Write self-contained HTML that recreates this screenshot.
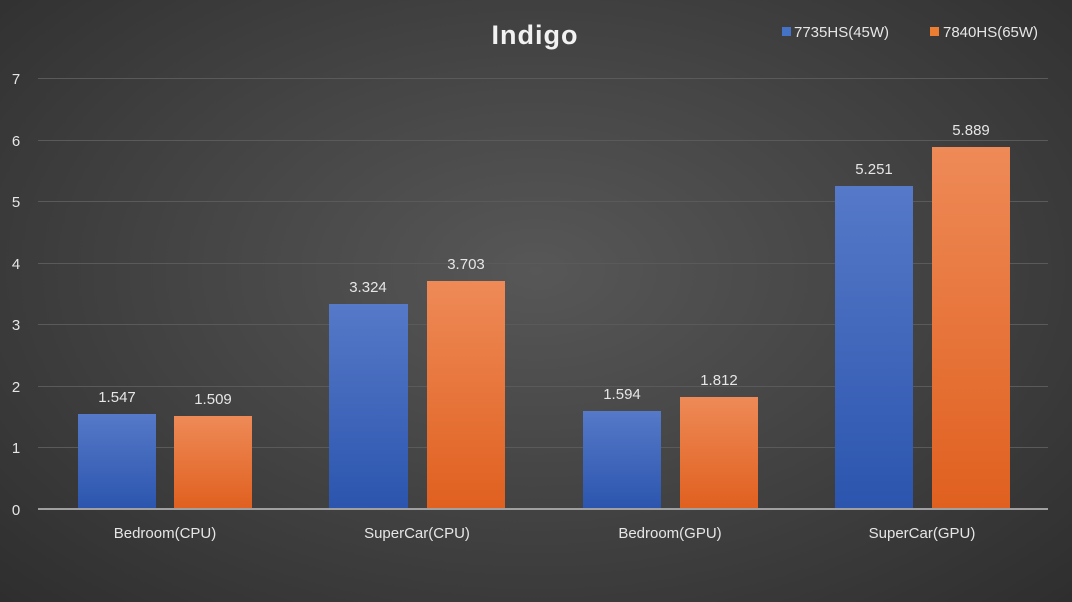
<!DOCTYPE html>
<html><head><style>
html,body{margin:0;padding:0;width:1072px;height:602px;overflow:hidden}
body{background:radial-gradient(ellipse at 50% 45%,#575757 0%,#454545 45%,#2e2e2e 100%)}
svg text{font-family:"Liberation Sans",sans-serif}
</style></head><body>
<svg width="1072" height="602" xmlns="http://www.w3.org/2000/svg">
<defs>
<linearGradient id="b" x1="0" y1="0" x2="0" y2="1"><stop offset="0" stop-color="#5679c8"/><stop offset="1" stop-color="#2b55ae"/></linearGradient>
<linearGradient id="o" x1="0" y1="0" x2="0" y2="1"><stop offset="0" stop-color="#ee8a57"/><stop offset="1" stop-color="#e0601f"/></linearGradient>
</defs>
<g stroke="#5a5a5a" stroke-width="1">
<line x1="38" x2="1048" y1="78.5" y2="78.5"/><line x1="38" x2="1048" y1="140.5" y2="140.5"/>
<line x1="38" x2="1048" y1="201.5" y2="201.5"/><line x1="38" x2="1048" y1="263.5" y2="263.5"/>
<line x1="38" x2="1048" y1="324.5" y2="324.5"/><line x1="38" x2="1048" y1="386.5" y2="386.5"/>
<line x1="38" x2="1048" y1="447.5" y2="447.5"/>
</g>
<g fill="#e6e6e6" font-size="15" text-anchor="middle">
<text x="16" y="84">7</text><text x="16" y="146">6</text><text x="16" y="207">5</text><text x="16" y="269">4</text>
<text x="16" y="330">3</text><text x="16" y="392">2</text><text x="16" y="453">1</text><text x="16" y="515">0</text>
</g>
<rect x="78" y="414" width="78" height="95" fill="url(#b)"/>
<rect x="174" y="416" width="78" height="93" fill="url(#o)"/>
<rect x="329" y="304" width="79" height="205" fill="url(#b)"/>
<rect x="427" y="281" width="78" height="228" fill="url(#o)"/>
<rect x="583" y="411" width="78" height="98" fill="url(#b)"/>
<rect x="680" y="397" width="78" height="112" fill="url(#o)"/>
<rect x="835" y="186" width="78" height="323" fill="url(#b)"/>
<rect x="932" y="147" width="78" height="362" fill="url(#o)"/>
<line x1="38" x2="1048" y1="509" y2="509" stroke="#a0a0a0" stroke-width="2"/>
<g fill="#e6e6e6" font-size="15" text-anchor="middle">
<text x="117" y="402">1.547</text><text x="213" y="404">1.509</text>
<text x="368" y="292">3.324</text><text x="466" y="269">3.703</text>
<text x="622" y="399">1.594</text><text x="719" y="385">1.812</text>
<text x="874" y="174">5.251</text><text x="971" y="135">5.889</text>
<text x="165" y="538">Bedroom(CPU)</text><text x="417" y="538">SuperCar(CPU)</text>
<text x="670" y="538">Bedroom(GPU)</text><text x="922" y="538">SuperCar(GPU)</text>
</g>
<text x="535" y="44" fill="#f2f2f2" font-size="27" font-weight="bold" text-anchor="middle" letter-spacing="1">Indigo</text>
<rect x="782" y="27" width="9" height="9" fill="#4472c4"/>
<text x="794" y="37" fill="#e6e6e6" font-size="15">7735HS(45W)</text>
<rect x="930" y="27" width="9" height="9" fill="#ed7d31"/>
<text x="943" y="37" fill="#e6e6e6" font-size="15">7840HS(65W)</text>
</svg>
</body></html>
